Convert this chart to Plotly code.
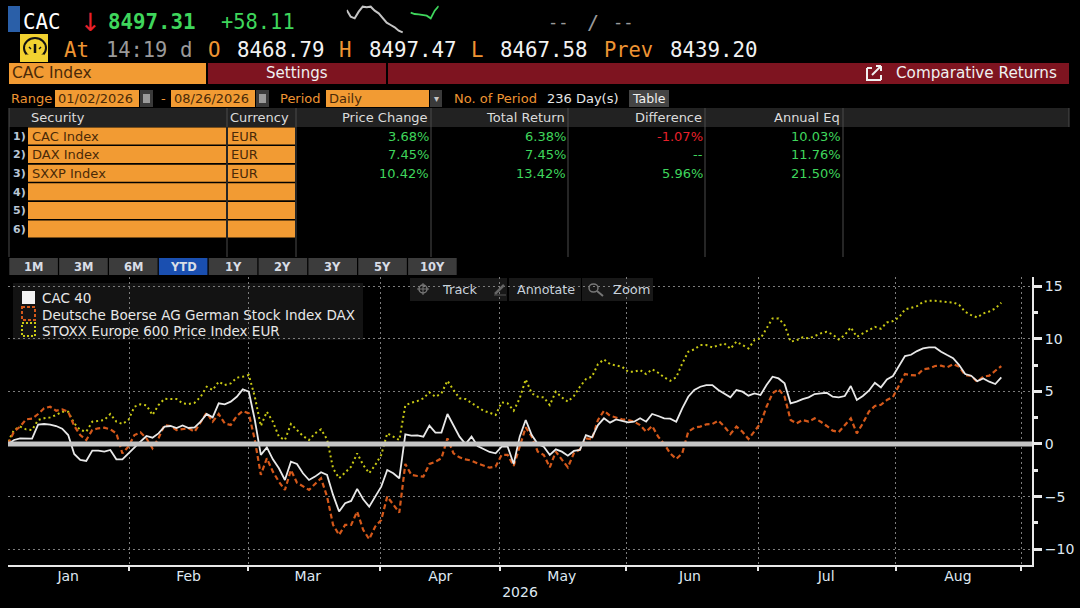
import plotly.graph_objects as go

W, H = 1080, 608
UI_FONT = "DejaVu Sans"
MONO_FONT = "DejaVu Sans Mono"

ORANGE = "#f29b33"
DARK_RED = "#7e1420"
GREEN = "#3fd65c"
RED = "#e8212b"
LABEL_ORANGE = "#ee9433"

cac = [0.0, 0.38, 0.54, 0.51, 0.51, 1.84, 1.90, 1.84, 1.71, 1.46, 0.85, -0.95, -1.52, -1.61, -0.63, -0.63, -0.73, -0.57, -1.46, -1.46,
       -0.89, -0.25, 0.22, 0.76, 0.60, 1.01, 1.65, 1.71, 1.52, 1.77, 1.52, 1.58, 2.12, 2.85, 2.53, 3.86, 3.77, 4.02, 4.49, 5.19,
       4.97, 2.28, -1.04, -0.32, -1.46, -2.31, -3.42, -1.68, -1.90, -2.78, -3.42, -3.10, -2.69, -2.94, -4.84, -6.42, -5.63, -5.41, -4.27, -5.25,
       -5.95, -5.00, -4.05, -2.47, -2.78, -3.26, 0.92, 0.79, 0.82, 0.70, 1.74, 1.08, 1.08, 2.85, 1.80, 0.70, 0.0, 0.70, -0.19, -0.51,
       -0.76, -0.89, -0.25, -0.25, -1.90, 0.70, 2.28, 0.85, 0.0, -0.25, -1.04, -0.51, -0.73, -1.11, -0.66, -0.57, 0.85, 0.63, 1.80, 2.44,
       2.03, 2.34, 2.22, 2.06, 2.12, 2.44, 2.12, 2.85, 2.66, 2.44, 2.41, 2.12, 3.39, 4.49, 5.13, 5.44, 5.60, 5.60, 5.13, 4.75,
       4.43, 5.13, 4.97, 4.59, 4.81, 4.65, 5.60, 6.39, 6.23, 5.76, 3.86, 4.02, 4.27, 4.43, 4.75, 4.81, 4.87, 4.49, 4.43, 4.56,
       5.51, 4.18, 4.56, 5.06, 5.82, 5.38, 6.14, 6.46, 7.34, 8.35, 8.48, 8.83, 9.08, 9.18, 9.18, 8.77, 8.45, 8.16, 7.50, 6.65,
       6.49, 5.98, 6.23, 5.92, 5.70, 6.33]
dax = [0.0, 1.17, 1.65, 2.34, 2.41, 2.85, 3.39, 3.54, 3.16, 3.29, 3.07, 1.71, 0.85, 0.38, 1.33, 1.49, 1.55, 1.39, 1.01, -0.89,
       -0.25, 0.85, 1.11, 0.54, -0.41, 0.54, 1.80, 1.71, 1.33, 1.39, 1.49, 1.17, 2.12, 2.97, 2.12, 2.85, 1.96, 1.80, 2.66, 3.13,
       2.91, 0.38, -2.94, -1.36, -2.63, -3.58, -4.37, -2.47, -3.67, -3.99, -4.37, -3.80, -3.26, -5.00, -7.69, -8.64, -7.69, -7.69, -6.42, -8.16,
       -9.05, -7.85, -7.22, -5.00, -5.79, -6.52, -1.90, -2.94, -3.04, -3.10, -1.90, -1.68, -1.36, 0.54, -0.89, -1.27, -1.46, -1.58, -1.84, -2.06,
       -2.25, -2.15, -1.04, -1.04, -2.09, -0.25, 1.58, 0.70, -0.73, -1.04, -2.22, -0.73, -1.52, -2.22, -0.89, -0.51, 0.54, 0.44, 2.28, 3.16,
       2.69, 2.53, 2.34, 2.28, 2.12, 1.80, 1.17, 1.71, 0.70, 0.0, -0.89, -1.42, -0.89, 1.17, 1.55, 1.65, 1.87, 1.90, 2.22, 1.65,
       0.95, 1.65, 1.17, 0.47, 1.17, 1.96, 3.54, 4.81, 5.22, 4.49, 2.28, 1.96, 2.28, 2.12, 2.44, 2.12, 1.71, 1.27, 1.14, 1.80,
       2.44, 1.01, 1.96, 3.07, 3.61, 3.73, 4.18, 4.46, 5.60, 6.65, 6.55, 6.52, 7.09, 7.18, 7.41, 7.44, 7.28, 7.59, 7.34, 6.55,
       6.46, 5.92, 6.39, 6.49, 6.96, 7.41]
sxxp = [0.22, 1.33, 1.65, 1.39, 1.33, 2.28, 2.44, 2.53, 2.75, 3.07, 3.07, 1.96, 1.33, 1.17, 2.12, 2.18, 2.28, 2.85, 2.12, 1.90,
        2.28, 3.54, 3.77, 3.67, 2.75, 3.70, 4.30, 4.27, 4.27, 3.86, 3.80, 3.92, 4.49, 5.44, 5.13, 5.92, 5.60, 5.76, 6.30, 6.39,
        6.55, 4.49, 1.71, 3.07, 2.12, 0.70, 0.38, 1.90, 1.33, 0.76, 0.38, 1.01, 1.39, 0.44, -2.31, -3.26, -2.72, -2.15, -0.89, -1.99,
        -2.78, -1.99, -1.04, 1.01, 0.70, 0.38, 3.67, 3.92, 4.08, 4.34, 4.91, 4.49, 4.81, 6.01, 5.13, 4.34, 4.27, 3.92, 3.54, 3.16,
        2.97, 2.75, 3.96, 3.86, 3.16, 4.34, 6.14, 4.81, 4.49, 4.43, 3.70, 4.97, 4.43, 4.02, 4.56, 5.44, 6.17, 6.39, 7.59, 8.04,
        7.59, 7.47, 7.34, 6.87, 6.87, 7.03, 6.65, 7.09, 6.77, 6.33, 6.01, 6.33, 7.66, 8.77, 8.99, 9.40, 9.40, 9.18, 9.40, 9.56,
        9.05, 9.72, 9.40, 9.08, 9.87, 10.03, 10.98, 11.93, 11.93, 11.30, 9.72, 9.87, 10.13, 10.03, 10.25, 10.51, 10.66, 10.41, 9.94, 10.35,
        11.08, 10.19, 10.51, 10.82, 11.14, 10.95, 11.55, 11.68, 12.03, 12.78, 12.91, 13.10, 13.51, 13.61, 13.61, 13.51, 13.48, 13.45, 13.23, 12.56,
        12.25, 12.03, 12.41, 12.59, 12.88, 13.42]
sessions = list(range(len(cac)))

months = ["Jan", "Feb", "Mar", "Apr", "May", "Jun", "Jul", "Aug"]
month_mids = [10, 30, 49.8, 71.8, 92, 113.3, 135.9, 157.8]
month_edges = [20.1, 39.9, 61.8, 81.7, 102.7, 124.6, 147.5, 168.3]
y_ticks = [-10, -5, 0, 5, 10, 15]

spark_white = [90, 70, 65, 85, 100, 98, 100, 88, 80, 65, 52, 45, 38, 28, 23]
spark_green = [82, 78, 77, 75, 73, 65, 88, 102]

securities = ["CAC Index", "DAX Index", "SXXP Index"]
currencies = ["EUR", "EUR", "EUR"]
price_change = ["3.68%", "7.45%", "10.42%"]
total_return = ["6.38%", "7.45%", "13.42%"]
difference = ["-1.07%", "--", "5.96%"]
annual_eq = ["10.03%", "11.76%", "21.50%"]
period_buttons = ["1M", "3M", "6M", "YTD", "1Y", "2Y", "3Y", "5Y", "10Y"]
legend_names = ["CAC 40", "Deutsche Boerse AG German Stock Index DAX", "STOXX Europe 600 Price Index EUR"]

shapes = []
notes = []


def rect(x0, y0, x1, y1, fill):
    shapes.append(dict(type="rect", xref="paper", yref="paper", x0=x0 / W, x1=x1 / W, y0=1 - y0 / H, y1=1 - y1 / H,
                       fillcolor=fill, line=dict(color=fill, width=0), layer="below"))


def seg(x0, y0, x1, y1, color, width=1, dash="solid", kind="line"):
    shapes.append(dict(type=kind, xref="paper", yref="paper", x0=x0 / W, x1=x1 / W, y0=1 - y0 / H, y1=1 - y1 / H,
                       line=dict(color=color, width=width, dash=dash), layer="above"))


def text(x, y, s, color="#e6e6e6", size=14, anchor="left", family=UI_FONT):
    notes.append(dict(xref="paper", yref="paper", x=x / W, y=1 - y / H, text=s, showarrow=False, xanchor=anchor,
                      yanchor="middle", borderpad=0, font=dict(color=color, size=size, family=family)))


# quote lines
rect(8, 6, 20, 32, "#2a5fa8")
text(22, 22, "CAC", "#ffffff", 20.8, family=MONO_FONT)
text(79, 23, "↓", RED, 25)
text(107, 22, "<b>8497.31</b>", GREEN, 20.8, family=MONO_FONT)
text(220, 22, "+58.11", GREEN, 20.4, family=MONO_FONT)
text(547, 22, "--", "#9a9a9a", 17, family=MONO_FONT)
text(586, 22, "/", "#9a9a9a", 20, family=MONO_FONT)
text(612, 22, "--", "#9a9a9a", 17, family=MONO_FONT)

rect(20, 34, 48, 62, "#f2d230")
seg(24, 38, 46, 58, "#111111", 2, kind="circle")
seg(26, 57, 44, 57, "#f2d230", 5)
seg(35, 53, 35, 44, "#111111", 2.5)
seg(29, 47, 31, 49, "#111111", 1.5)
seg(41, 47, 39, 49, "#111111", 1.5)
text(63, 50, "At", LABEL_ORANGE, 20.8, family=MONO_FONT)
text(105, 50, "14:19", "#9a9a9a", 20.4, family=MONO_FONT)
text(179, 50, "d", "#9a9a9a", 20.8, family=MONO_FONT)
text(207, 50, "O", LABEL_ORANGE, 20.8, family=MONO_FONT)
text(236, 50, "8468.79", "#f2f2f2", 20.8, family=MONO_FONT)
text(338, 50, "H", LABEL_ORANGE, 20.8, family=MONO_FONT)
text(368, 50, "8497.47", "#f2f2f2", 20.8, family=MONO_FONT)
text(470, 50, "L", LABEL_ORANGE, 20.8, family=MONO_FONT)
text(499, 50, "8467.58", "#f2f2f2", 20.8, family=MONO_FONT)
text(603, 50, "Prev", LABEL_ORANGE, 20.4, family=MONO_FONT)
text(669, 50, "8439.20", "#f2f2f2", 20.8, family=MONO_FONT)

# title bars
rect(9, 63, 206, 84, ORANGE)
rect(208, 63, 386, 84, DARK_RED)
rect(388, 63, 1069, 84, DARK_RED)
text(11, 73, "CAC Index", "#4a2a08", 15.5)
text(297, 73, "Settings", "#f0f0f0", 15, "center")
seg(867, 68, 867, 80, "#f0f0f0", 2)
seg(866, 80, 881, 80, "#f0f0f0", 2)
seg(881, 80, 881, 75, "#f0f0f0", 2)
seg(867, 68, 872, 68, "#f0f0f0", 2)
seg(872, 75, 881, 66, "#f0f0f0", 2)
seg(876, 66, 881, 66, "#f0f0f0", 2)
seg(881, 66, 881, 71, "#f0f0f0", 2)
text(895, 73, "Comparative Returns", "#f0f0f0", 15.2)

# range row
text(10, 98, "Range", LABEL_ORANGE, 13)
rect(55, 90, 139, 107, ORANGE)
text(57, 98, "01/02/2026", "#4a2a08", 13)
rect(140, 90, 153, 107, "#3a3a3a")
rect(143, 94, 150, 103, "#9a9a9a")
text(160, 98, "-", LABEL_ORANGE, 13)
rect(171, 90, 255, 107, ORANGE)
text(173, 98, "08/26/2026", "#4a2a08", 13)
rect(256, 90, 269, 107, "#3a3a3a")
rect(259, 94, 266, 103, "#9a9a9a")
text(279, 98, "Period", LABEL_ORANGE, 13)
rect(326, 90, 429, 107, ORANGE)
text(328, 98, "Daily", "#4a2a08", 13)
rect(430, 90, 442, 107, "#3a3a3a")
text(436, 98, "▾", "#c8c8c8", 10, "center")
text(453, 98, "No. of Period", LABEL_ORANGE, 13)
text(546, 98, "236 Day(s)", "#e6e6e6", 13)
rect(629, 90, 669, 107, "#444444")
text(649, 98, "Table", "#f0f0f0", 12.5, "center")

# table
rect(9, 108, 1069, 127, "#222222")
text(30, 117, "Security", "#dcdcdc", 13)
text(229, 117, "Currency", "#dcdcdc", 13)
text(429, 117, "Price Change", "#dcdcdc", 13, "right")
text(566, 117, "Total Return", "#dcdcdc", 13, "right")
text(703, 117, "Difference", "#dcdcdc", 13, "right")
text(841, 117, "Annual Eq", "#dcdcdc", 13, "right")
for x in [9, 227, 296, 431, 568, 705, 843]:
    seg(x, 108, x, 257, "#4a4a4a", 1)
seg(1069, 108, 1069, 127, "#4a4a4a", 1)
for i in range(6):
    top = 127 + i * 18.6
    rect(28, top + 0.5, 226, top + 17.5, ORANGE)
    rect(228, top + 0.5, 295, top + 17.5, ORANGE)
    text(27, top + 9.3, "<b>%d)</b>" % (i + 1), "#b9c6d6", 11, "right")
    if i < len(securities):
        text(31, top + 9.3, securities[i], "#4a2a08", 13)
        text(230, top + 9.3, currencies[i], "#4a2a08", 13)
        text(430, top + 9.3, price_change[i], GREEN, 13, "right")
        text(567, top + 9.3, total_return[i], GREEN, 13, "right")
        text(704, top + 9.3, difference[i], RED if difference[i].startswith("-1") else GREEN, 13, "right")
        text(842, top + 9.3, annual_eq[i], GREEN, 13, "right")

# period buttons
for i, name in enumerate(period_buttons):
    x0 = 9.3 + i * 49.85
    rect(x0, 258, x0 + 48.6, 275, "#1a4fb0" if name == "YTD" else "#3c3c3c")
    text(x0 + 24.3, 266.5, "<b>%s</b>" % name, "#d8dde6", 11.5, "center")

# chart toolbar
rect(410, 278, 507, 301, "#181818")
rect(509, 278, 581, 301, "#181818")
rect(582, 278, 653, 301, "#181818")
seg(419, 285, 427, 293, "#777777", 1.5, kind="circle")
seg(423, 283, 423, 295, "#777777", 1)
seg(417, 289, 429, 289, "#777777", 1)
text(441, 289, "Track", "#c8d2dc", 13)
seg(495, 294, 504, 285, "#666666", 2.5)
seg(494, 295, 506, 295, "#555555", 1)
text(516, 289, "Annotate", "#c8d2dc", 12.7)
seg(589, 284, 598, 292, "#777777", 1.5, kind="circle")
seg(597, 291, 603, 296, "#777777", 2)
text(612, 289, "Zoom", "#c8d2dc", 13)

# legend box
rect(13, 283, 363, 340, "#131313")
rect(22, 291, 35, 304, "#f2f2f2")
seg(22, 307, 35, 320, "#d4581a", 2, "3px,2px", "rect")
seg(22, 323, 35, 336, "#c9c914", 2, "2px,2px", "rect")
for name, y in zip(legend_names, [298, 315, 331]):
    text(41, y, name, "#e8e8e8", 13.5)

fig = go.Figure()
fig.add_trace(go.Scatter(x=sessions, y=sxxp, mode="lines", line=dict(color="#c9c914", width=2, dash="2px,3px"), showlegend=False))
fig.add_trace(go.Scatter(x=sessions, y=dax, mode="lines", line=dict(color="#d4581a", width=2.2, dash="5px,3px"), showlegend=False))
fig.add_trace(go.Scatter(x=sessions, y=cac, mode="lines", line=dict(color="#e8e8e8", width=1.8), showlegend=False))

# small history sparks in the quote line
fig.add_trace(go.Scatter(x=list(range(len(spark_white))), y=spark_white, xaxis="x2", yaxis="y2", mode="lines",
                         line=dict(color="#c4c4c4", width=2), showlegend=False))
fig.add_trace(go.Scatter(x=[16 + i for i in range(len(spark_green))], y=spark_green, xaxis="x2", yaxis="y2", mode="lines",
                         line=dict(color="#3fd65c", width=1.8), showlegend=False))

shapes.append(dict(type="line", xref="paper", yref="y", x0=8 / W, x1=1032 / W, y0=0, y1=0,
                   line=dict(color="#c4c4c4", width=5), layer="above"))

fig.update_layout(
    width=W, height=H, margin=dict(l=0, r=0, t=0, b=0),
    paper_bgcolor="#000000", plot_bgcolor="#000000",
    shapes=shapes, annotations=notes,
    font=dict(family=UI_FONT, color="#e6e6e6"),
    xaxis=dict(domain=[8 / W, 1032 / W], range=[0, 170.1], tickvals=month_mids, ticktext=months, ticks="",
               showgrid=False, zeroline=False, showline=True, linecolor="#e8e8e8", linewidth=2,
               tickfont=dict(size=14, color="#dfe8f2"), ticklabelstandoff=-3,
               title=dict(text="2026", font=dict(size=14, color="#dfe8f2"), standoff=4),
               minor=dict(tickvals=month_edges, showgrid=True, gridcolor="#7c7c7c", griddash="2px,3px", gridwidth=1,
                          ticks="outside", ticklen=4, tickcolor="#e8e8e8", tickwidth=2)),
    yaxis=dict(domain=[1 - 565 / H, 1 - 277 / H], range=[-11.5, 15.87], side="right", anchor="x", tickvals=y_ticks,
               showgrid=True, gridcolor="#7c7c7c", griddash="2px,3px", gridwidth=1, zeroline=False,
               showline=True, linecolor="#e8e8e8", linewidth=2, ticks="outside", ticklen=8, tickcolor="#e8e8e8", tickwidth=3,
               tickfont=dict(size=14, color="#dfe8f2"),
               minor=dict(dtick=2.5, tick0=0, ticks="outside", ticklen=4, tickcolor="#e8e8e8", showgrid=False)),
    xaxis2=dict(domain=[346.7 / W, 438.7 / W], range=[0, 23], visible=False, anchor="y2"),
    yaxis2=dict(domain=[1 - 40 / H, 1], range=[0, 120], visible=False, anchor="x2"),
)

fig.write_html("out.html", config=dict(displayModeBar=False),
               post_script="document.body.style.margin='0';document.body.style.background='#000';")
